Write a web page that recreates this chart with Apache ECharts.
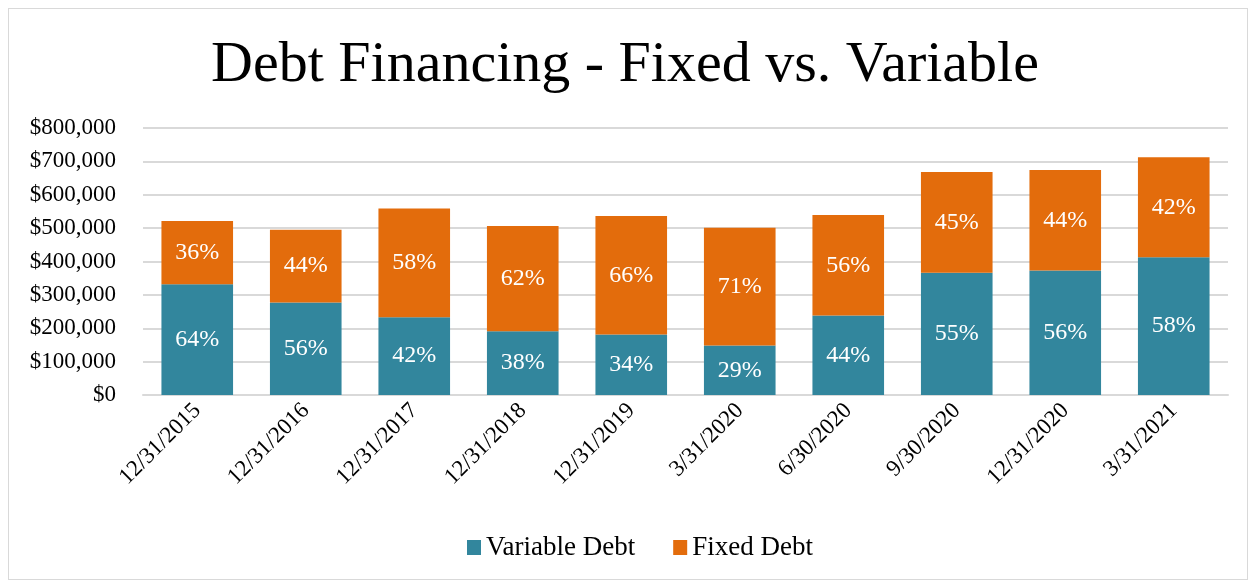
<!DOCTYPE html>
<html>
<head>
<meta charset="utf-8">
<script src="https://cdn.jsdelivr.net/npm/echarts@6/dist/echarts.min.js"></script>
<style>
html, body { margin: 0; padding: 0; background: #fff; }
#frame {
  position: absolute; left: 8px; top: 8px; width: 1240px; height: 572px;
  border: 1px solid #d9d9d9; box-sizing: border-box;
}
#chart { position: absolute; left: 0; top: 0; width: 1250px; height: 582px; }
</style>
</head>
<body>
<div id="frame"></div>
<div id="chart"></div>
<script>
var categories = ['12/31/2015', '12/31/2016', '12/31/2017', '12/31/2018', '12/31/2019',
  '3/31/2020', '6/30/2020', '9/30/2020', '12/31/2020', '3/31/2021']
var variableDebt = [332000, 277000, 233000, 191000, 181000, 148000, 238000, 366000, 373000, 413000]
var fixedDebt = [189000, 218000, 326000, 315000, 355000, 353000, 301000, 302000, 301000, 299000]
var variablePct = ['64%', '56%', '42%', '38%', '34%', '29%', '44%', '55%', '56%', '58%']
var fixedPct = ['36%', '44%', '58%', '62%', '66%', '71%', '56%', '45%', '44%', '42%']

var serif = '"Liberation Serif", "Times New Roman", serif'
var chart = echarts.init(document.getElementById('chart'))

function money(v) {
  return '$' + v.toLocaleString('en-US')
}

chart.setOption({
  animation: false,
  title: {
    text: 'Debt Financing - Fixed vs. Variable',
    left: 'center',
    top: 32,
    textStyle: { fontFamily: serif, fontSize: 58, fontWeight: 'normal', color: '#000' }
  },
  legend: {
    data: ['Variable Debt', 'Fixed Debt'],
    bottom: 16,
    left: 462,
    icon: 'rect',
    itemWidth: 14,
    itemHeight: 15,
    itemGap: 38,
    textStyle: { fontFamily: serif, fontSize: 27, color: '#000' }
  },
  grid: { left: 143, right: 22, top: 128, bottom: 187 },
  xAxis: {
    type: 'category',
    data: categories,
    axisLine: { lineStyle: { color: '#d9d9d9', width: 2 } },
    axisTick: { show: false },
    axisLabel: { rotate: 45, fontFamily: serif, fontSize: 23, color: '#000', margin: 12 }
  },
  yAxis: {
    type: 'value',
    min: 0,
    max: 800000,
    interval: 100000,
    axisLine: { show: false },
    axisTick: { show: false },
    splitLine: { lineStyle: { color: '#d9d9d9', width: 2 } },
    axisLabel: { fontFamily: serif, fontSize: 23, color: '#000', margin: 27, formatter: money }
  },
  series: [
    {
      name: 'Variable Debt',
      type: 'bar',
      stack: 'debt',
      data: variableDebt,
      barWidth: '66%',
      itemStyle: { color: '#32869d' },
      label: {
        show: true,
        position: 'inside',
        fontFamily: serif,
        fontSize: 24,
        color: '#fff',
        formatter: function(p) { return variablePct[p.dataIndex] }
      }
    },
    {
      name: 'Fixed Debt',
      type: 'bar',
      stack: 'debt',
      data: fixedDebt,
      barWidth: '66%',
      itemStyle: { color: '#e36c0c' },
      label: {
        show: true,
        position: 'inside',
        fontFamily: serif,
        fontSize: 24,
        color: '#fff',
        formatter: function(p) { return fixedPct[p.dataIndex] }
      }
    }
  ]
})
</script>
</body>
</html>
